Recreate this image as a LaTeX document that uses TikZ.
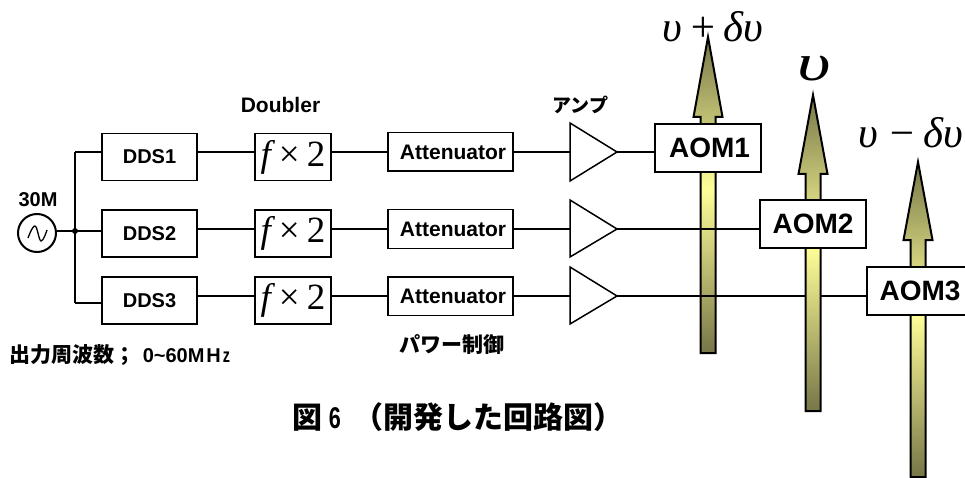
\documentclass[tikz,border=0pt]{standalone}
\usepackage{fontspec}
\setmainfont{Liberation Sans}
\newfontfamily\jpfont{Noto Sans CJK JP}
\newfontfamily\symfont{Liberation Serif}
\newfontfamily\narrowfont{Liberation Sans}[FakeStretch=0.72]
\usetikzlibrary{positioning,calc}
\definecolor{beamdark}{RGB}{118,118,72}
\definecolor{beamlight}{RGB}{255,255,153}
\pgfdeclareverticalshading{beam}{100bp}{color(0bp)=(beamdark); color(25bp)=(beamdark); color(51bp)=(beamlight); color(75bp)=(beamdark); color(100bp)=(beamdark)}
\newcommand{\beamarrow}[4]{% centre x, tip y, head base y, bottom y
	\draw[beamline, shading=beam] (#1,#2) -- (#1+14.5,#3) -- (#1+7.5,#3) -- (#1+7.5,#4) -- (#1-7.5,#4) -- (#1-7.5,#3) -- (#1-14.5,#3) -- cycle;
}
\newcommand{\dbltext}{{\itshape f}\hspace{8pt}×\hspace{7pt}2}
\begin{document}
\begin{tikzpicture}[x=1pt, y=-1pt, line width=1.5pt,
	block/.style = {draw=black, fill=white, align=center, inner sep=0pt, font=\bfseries},
	ddsbox/.style = {block, minimum width=95pt, minimum height=47pt, font=\bfseries\fontsize{20}{22}\selectfont},
	dblbox/.style = {block, minimum width=76pt, minimum height=47pt, font=\symfont\fontsize{37}{39}\selectfont},
	attbox/.style = {block, minimum width=125pt, minimum height=38.5pt, font=\bfseries\fontsize{21}{23}\selectfont},
	aombox/.style = {block, minimum width=106pt, minimum height=48pt, font=\bfseries\fontsize{28}{30}\selectfont},
	ampbox/.style = {draw=black, fill=white, line width=1.5pt},
	beamline/.style = {draw=black, line width=2pt},
	label/.style = {inner sep=0pt, font=\bfseries\fontsize{21}{23}\selectfont},
	jplabel/.style = {inner sep=0pt, font=\jpfont\bfseries\fontsize{21}{23}\selectfont},
	freq/.style = {inner sep=0pt, font=\symfont\itshape\fontsize{43}{45}\selectfont},
	]
	\useasboundingbox (0,0) rectangle (965,478);
	\fill[white] (0,0) rectangle (965,478);
	% source
	\node [draw=black, line width=2pt, circle, minimum size=38pt, inner sep=0pt] (src) at (37,233) {};
	\draw[line width=1.3pt] plot [smooth, tension=0.7] coordinates {(28,238) (35,226) (41,241) (47,230)};
	\node [label, font=\bfseries\fontsize{20}{22}\selectfont] (srcname) at (38,200) {30M};
	\coordinate (hub) at (75,231);
	\coordinate (busa) at (75,152);
	\coordinate (busb) at (75,303);
	\fill (hub) circle (3pt);
	% first row of blocks
	\node [ddsbox] (dds1) at (149.5,157) {DDS1};
	\node [ddsbox] (dds2) at (149.5,233.5) {\raisebox{-3pt}{DDS2}};
	\node [ddsbox] (dds3) at (149.5,300.5) {DDS3};
	\node [dblbox] (dbl1) at (293,157) {\dbltext};
	\node [dblbox] (dbl2) at (293,233.5) {\dbltext};
	\node [dblbox] (dbl3) at (293,300.5) {\dbltext};
	\node [attbox] (att1) at (450.5,152) {\hspace{5pt}Attenuator};
	\node [attbox] (att2) at (450.5,229) {\hspace{5pt}Attenuator};
	\node [attbox] (att3) at (450.5,296) {\hspace{5pt}Attenuator};
	% amplifiers
	\coordinate (amp1top) at (570,123);
	\coordinate (amp2top) at (570,200);
	\coordinate (amp3top) at (570,267);
	\coordinate (amp1bot) at (570,181);
	\coordinate (amp2bot) at (570,257);
	\coordinate (amp3bot) at (570,324);
	\coordinate (amp1out) at (617,152);
	\coordinate (amp2out) at (617,229);
	\coordinate (amp3out) at (617,296);
	% beam of the first AOM lies under the wires
	\beamarrow{708}{37}{117}{353}
	\draw (att1.east) -- (amp1out) -- ++(40,0);
	\draw (att2.east) -- (amp2out) -- ++(145,0);
	\draw (att3.east) -- (amp3out) -- ++(252,0);
	\beamarrow{813}{95}{174}{411}
	\beamarrow{918}{162}{240}{477}
	\foreach \i in {1,2,3} {
		\draw[ampbox] (amp\i top) -- (amp\i out) -- (amp\i bot) -- cycle;
	}
	\node [aombox] (aom1) at (708,148) {\hspace{3pt}AOM1};
	\node [aombox] (aom2) at (813,224) {AOM2};
	\node [aombox] (aom3) at (920,291) {AOM3};
	% wires on the left
	\draw (src.east |- hub) -- (hub) -- (dds2.west |- hub);
	\draw (busa) -- (busb);
	\draw (busa) -- (dds1.west |- busa);
	\draw (busb) -- (dds3.west |- busb);
	\draw (dds1.east |- att1) -- (dbl1.west |- att1);
	\draw (dds2.east |- att2) -- (dbl2.west |- att2);
	\draw (dds3.east |- att3) -- (dbl3.west |- att3);
	\draw (dbl1.east |- att1) -- (att1.west);
	\draw (dbl2.east |- att2) -- (att2.west);
	\draw (dbl3.east |- att3) -- (att3.west);
	% labels
	\node [label] (dblname) at (280.5,105) {Doubler};
	\node [jplabel, font=\jpfont\bfseries\fontsize{19}{21}\selectfont] (ampname) at (580.5,105) {アンプ};
	\node [jplabel] (attname) at (452,345) {パワー制御};
	\node [jplabel, anchor=west] (range) at (9,355) {出力周波数；\hspace{7pt}{\rmfamily\bfseries\fontsize{20}{22}\selectfont 0\textasciitilde 60M\hspace{2pt}H\hspace{2pt}{\narrowfont z}}};
	\node [inner sep=0pt, anchor=west, font=\jpfont\bfseries\fontsize{30}{32}\selectfont] (caption) at (292,417) {図\hspace{6pt}{\narrowfont\bfseries 6}\hspace{13pt}（開発した回路図）};
	\node [freq] (plus) at (712.5,27) {υ\hspace{7pt}+\hspace{5pt}δυ};
	\node [freq, font=\symfont\itshape\fontsize{52}{54}\selectfont, xscale=1.4] (centre) at (814,69) {υ};
	\node [freq] (minus) at (911,133) {υ\hspace{9pt}−\hspace{7pt}δυ};
\end{tikzpicture}
\end{document}
